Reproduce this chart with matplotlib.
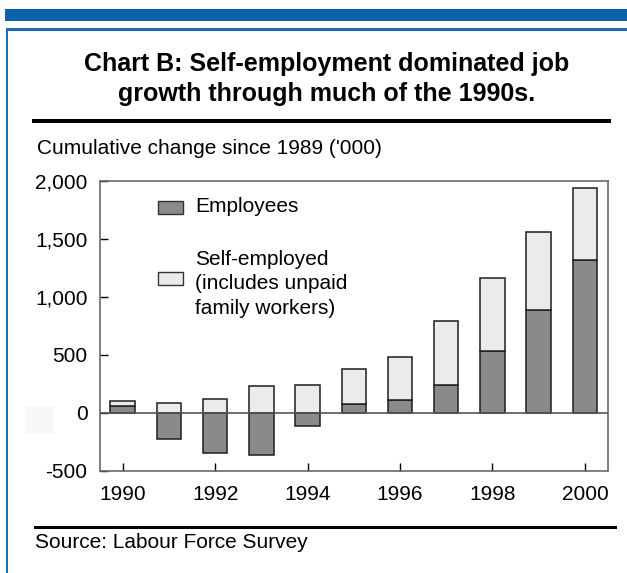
import numpy as np
import matplotlib
matplotlib.use("Agg")
import matplotlib.pyplot as plt
from matplotlib.patches import Rectangle
from matplotlib.ticker import FuncFormatter

plt.rcParams['font.family'] = ['Liberation Sans', 'DejaVu Sans']

years = [1990, 1991, 1992, 1993, 1994, 1995, 1996, 1997, 1998, 1999, 2000]
# cumulative change since 1989, thousands
employees = [60, -227, -348, -359, -112, 75, 112, 239, 534, 888, 1319]
self_employed = [40, 86, 118, 230, 239, 302, 368, 557, 632, 672, 621]
year_ticks = [1990, 1992, 1994, 1996, 1998, 2000]
value_ticks = [-500, 0, 500, 1000, 1500, 2000]

W, H = 627, 573
fig = plt.figure(figsize=(W / 100, H / 100), dpi=100)


def box(x0, y0, x1, y1, **kw):
    # rectangle given in pixels measured from the top-left corner
    kw.setdefault('lw', 0)
    fig.add_artist(Rectangle((x0 / W, 1 - y1 / H), (x1 - x0) / W, (y1 - y0) / H,
                             transform=fig.transFigure, **kw))


box(5, 9, W, 21, color='#0a62ab')
box(6, 28, W, 31, color='#1d6db5')
box(6, 28, 8, H, color='#1d6db5')
box(32, 119, 611, 123, color='black')
box(34, 526, 617, 529, color='black')
box(25, 406, 54, 434, color='#f8f8f8')

fig.text(327 / W, 1 - 79 / H, "Chart B: Self-employment dominated job\ngrowth through much of the 1990s.",
         ha='center', va='center', fontsize=18, fontweight='bold', linespacing=1.35)
fig.text(37 / W, 1 - 148 / H, "Cumulative change since 1989 ('000)", ha='left', va='center', fontsize=15)
fig.text(35 / W, 1 - 543 / H, "Source: Labour Force Survey", ha='left', va='center', fontsize=15)

ax = fig.add_axes([100 / W, (H - 471) / H, 508 / W, 290 / H])

emp = np.array(employees)
selfemp = np.array(self_employed)
width = 0.53
ax.bar(years, emp, width=width, color='#8a8a8a', edgecolor='#1e1e1e', lw=1.1, zorder=2)
ax.bar(years, selfemp, width=width, bottom=np.maximum(emp, 0), color='#ebebeb',
       edgecolor='#1e1e1e', lw=1.1, zorder=2)
ax.axhline(0, color='#555555', lw=1.2, zorder=3)

ax.set_xlim(1989.51, 2000.5)
ax.set_ylim(-500, 2000)
ax.set_xticks(year_ticks)
ax.set_yticks(value_ticks)
ax.yaxis.set_major_formatter(FuncFormatter(lambda v, p: f"{int(v):,}"))
ax.tick_params(axis='both', direction='in', length=6, width=1, colors='black', labelsize=15)
ax.tick_params(axis='x', pad=10)
ax.tick_params(axis='y', pad=9)
for s in ax.spines.values():
    s.set_color('#6a6a6a')
    s.set_linewidth(1.2)

# legend swatches and labels
box(158, 201, 183, 214, facecolor='#8a8a8a', edgecolor='#333333', lw=1)
box(158, 272, 183, 285, facecolor='#ebebeb', edgecolor='#333333', lw=1)
fig.text(195 / W, 1 - 207 / H, "Employees", ha='left', va='center', fontsize=15)
fig.text(195 / W, 1 - 284 / H, "Self-employed\n(includes unpaid\nfamily workers)",
         ha='left', va='center', fontsize=15, linespacing=1.35)

fig.savefig("out.png", dpi=100)
